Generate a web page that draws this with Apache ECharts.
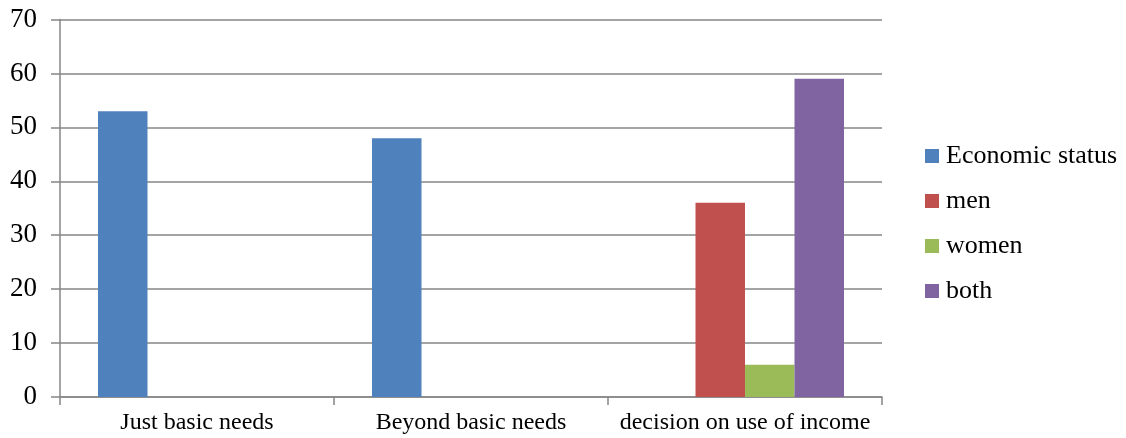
<!DOCTYPE html>
<html>
<head>
<meta charset="utf-8">
<script src="https://cdn.jsdelivr.net/npm/echarts@6/dist/echarts.min.js"></script>
<style>
html,body{margin:0;padding:0;background:#fff;}
#chart{width:1126px;height:438px;}
</style>
</head>
<body>
<div id="chart"></div>
<script>
const categories = ['Just basic needs', 'Beyond basic needs', 'decision on use of income'];
const economicStatus = [53, 48, null];
const men = [null, null, 36];
const women = [null, null, 6];
const both = [null, null, 59];
const yTicks = { min: 0, max: 70, interval: 10 };

const chart = echarts.init(document.getElementById('chart'), null, { renderer: 'canvas' });
const font = 'Liberation Serif, Times New Roman, serif';
const axisColor = '#868686';
chart.setOption({
  animation: false,
  backgroundColor: '#fff',
  textStyle: { fontFamily: font },
  grid: { left: 60, right: 244, top: 19.5, bottom: 41, containLabel: false },
  legend: {
    orient: 'vertical',
    left: 920,
    top: 138,
    itemWidth: 14,
    itemHeight: 14,
    itemGap: 19,
    icon: 'rect',
    textStyle: { fontFamily: font, fontSize: 26, color: '#000', lineHeight: 26, padding: [0, 0, 0, 2] },
    data: ['Economic status', 'men', 'women', 'both']
  },
  xAxis: {
    type: 'category',
    data: categories,
    boundaryGap: true,
    axisLine: { lineStyle: { color: axisColor, width: 1.5 } },
    axisTick: { show: true, length: 8, lineStyle: { color: axisColor, width: 1.5 } },
    axisLabel: { color: '#000', fontFamily: font, fontSize: 24, margin: 14, interval: 0 },
    splitLine: { show: false }
  },
  yAxis: {
    type: 'value',
    min: yTicks.min,
    max: yTicks.max,
    interval: yTicks.interval,
    axisLine: { show: true, lineStyle: { color: axisColor, width: 1.5 } },
    axisTick: { show: true, length: 9, lineStyle: { color: axisColor, width: 1.5 } },
    axisLabel: { color: '#000', fontFamily: font, fontSize: 27, margin: 23 },
    splitLine: { show: true, lineStyle: { color: axisColor, width: 1.5 } }
  },
  series: [
    { name: 'Economic status', type: 'bar', data: economicStatus, barWidth: 49.5, barGap: '0%', itemStyle: { color: '#4F81BD' } },
    { name: 'men', type: 'bar', data: men, barWidth: 49.5, barGap: '0%', itemStyle: { color: '#C0504D' } },
    { name: 'women', type: 'bar', data: women, barWidth: 49.5, barGap: '0%', itemStyle: { color: '#9BBB59' } },
    { name: 'both', type: 'bar', data: both, barWidth: 49.5, barGap: '0%', itemStyle: { color: '#8064A2' } }
  ]
});
</script>
</body>
</html>
